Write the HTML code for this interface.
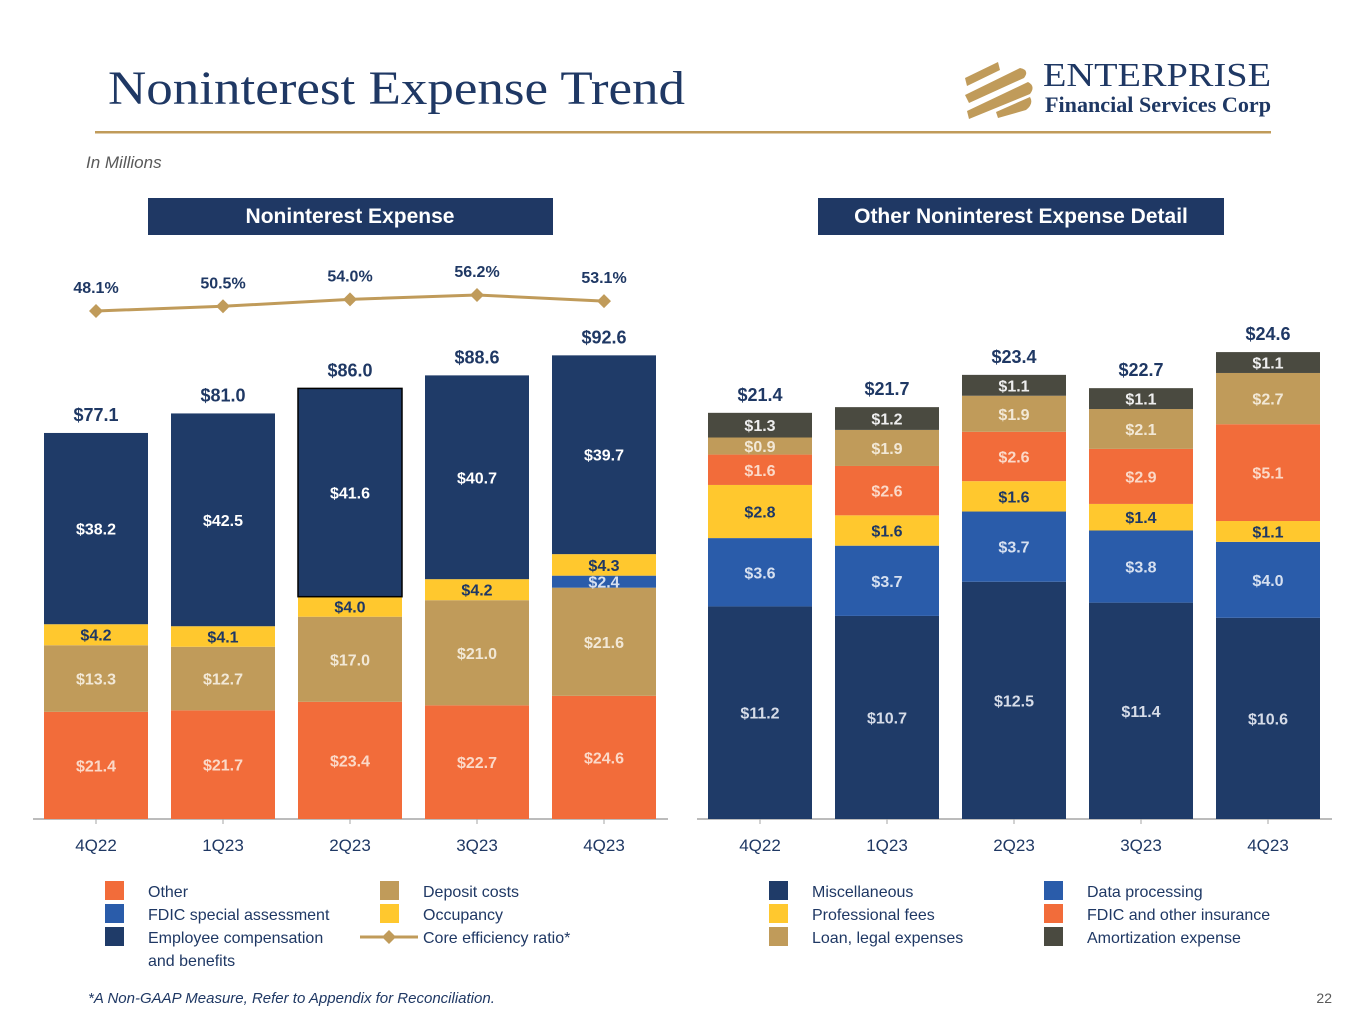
<!DOCTYPE html>
<html><head><meta charset="utf-8">
<style>
body{margin:0;width:1365px;height:1024px;background:#fff;overflow:hidden;font-family:"Liberation Sans",sans-serif}
svg{position:absolute;left:0;top:0}
</style></head>
<body>
<svg id="s" width="1365" height="1024" xmlns="http://www.w3.org/2000/svg">
<text x="108" y="104" font-family="Liberation Serif" font-size="48" fill="#1F3864" textLength="577" lengthAdjust="spacingAndGlyphs">Noninterest Expense Trend</text>
<g>
<path d="M965 78 L998 62 L1000 70 L967 86 Z M965 95 L1020 68 Q1030 70 1024 78 L969 103 Z M967 111 L1028 82 Q1036 86 1030 94 L969 119 Z M996 112 L1030 97 Q1034 104 1026 110 L998 118 Z" fill="#C09B5A"/>
<text x="1043" y="86" font-family="Liberation Serif" font-size="34" fill="#1F3864" textLength="228" lengthAdjust="spacingAndGlyphs">ENTERPRISE</text>
<text x="1045" y="112" font-family="Liberation Serif" font-size="22" font-weight="bold" fill="#1F3864" textLength="226" lengthAdjust="spacingAndGlyphs">Financial Services Corp</text>
</g>
<rect x="95" y="131" width="1176" height="2.5" fill="#C09B5A"/>
<text x="86" y="168" font-size="17" font-style="italic" fill="#595959">In Millions</text>
<rect x="148" y="198" width="405" height="37" fill="#1F3864"/>
<text x="350" y="223" text-anchor="middle" font-size="21" font-weight="bold" fill="#fff">Noninterest Expense</text>
<rect x="818" y="198" width="406" height="37" fill="#1F3864"/>
<text x="1021" y="223" text-anchor="middle" font-size="21" font-weight="bold" fill="#fff">Other Noninterest Expense Detail</text>
<g id="left"></g><g id="right"></g>
<text x="88" y="1003" font-size="15" font-style="italic" fill="#1F3864">*A Non-GAAP Measure, Refer to Appendix for Reconciliation.</text>
<text x="1332" y="1003" text-anchor="end" font-size="14" fill="#595959">22</text>
</svg>
<script>
const quarters=["4Q22","1Q23","2Q23","3Q23","4Q23"];
const leftOther=[21.4,21.7,23.4,22.7,24.6];
const leftDeposit=[13.3,12.7,17.0,21.0,21.6];
const leftFdicSpecial=[0,0,0,0,2.4];
const leftOccupancy=[4.2,4.1,4.0,4.2,4.3];
const leftEmployee=[38.2,42.5,41.6,40.7,39.7];
const leftTotals=[77.1,81.0,86.0,88.6,92.6];
const efficiency=[48.1,50.5,54.0,56.2,53.1];
const rightMisc=[11.2,10.7,12.5,11.4,10.6];
const rightData=[3.6,3.7,3.7,3.8,4.0];
const rightProf=[2.8,1.6,1.6,1.4,1.1];
const rightFdic=[1.6,2.6,2.6,2.9,5.1];
const rightLoan=[0.9,1.9,1.9,2.1,2.7];
const rightAmort=[1.3,1.2,1.1,1.1,1.1];
const rightTotals=[21.4,21.7,23.4,22.7,24.6];

const NS="http://www.w3.org/2000/svg";
function mk(p,t,a,txt){const e=document.createElementNS(NS,t);for(const k in a)e.setAttribute(k,a[k]);if(txt!=null)e.textContent=txt;p.appendChild(e);return e;}
const BASE=819;
function chart(g,x0,series,totals,scale,axisX1,axisX2,prefix){
  const xC=i=>x0+i*127, yV=v=>BASE-v*scale;
  const ax=mk(g,'line',{x1:axisX1,x2:axisX2,y1:BASE,y2:BASE,stroke:'#A6A6A6','stroke-width':1.5});
  
  
  quarters.forEach((q,i)=>{
    let cum=0;
    series.forEach(s=>{
      const v=s.vals[i]; if(!v){return;}
      const r=mk(g,'rect',{x:xC(i)-52,y:yV(cum+v),width:104,height:v*scale,fill:s.color});
      
      
      if(s.outline&&i===2){r.setAttribute('stroke','#000');r.setAttribute('stroke-width','1.5');}
      const t=mk(g,'text',{x:xC(i),y:yV(cum+v/2)+6,'text-anchor':'middle','font-size':16,'font-weight':'bold',fill:s.tc},'$'+v.toFixed(1));
      
      
      cum+=v;
    });
    const tl=mk(g,'text',{x:xC(i),y:yV(totals[i])-12,'text-anchor':'middle','font-size':18,'font-weight':'bold',fill:'#1F3864'},'$'+totals[i].toFixed(1));
    
    
    const tk=mk(g,'line',{x1:xC(i),x2:xC(i),y1:BASE,y2:BASE+5,stroke:'#A6A6A6'});
    
    
    const xl=mk(g,'text',{x:xC(i),y:851,'text-anchor':'middle','font-size':17,fill:'#1F3864'},q);
    
    
  });
  return xC;
}
const L=document.getElementById('left'), R=document.getElementById('right');
const xL=chart(L,96,[
 {name:'other',vals:leftOther,color:'#F26C3A',tc:'#FBD9C8'},
 {name:'deposit',vals:leftDeposit,color:'#C09B5A',tc:'#F2E8D6'},
 {name:'fdic-special',vals:leftFdicSpecial,color:'#2A5CAA',tc:'#D6E0F0'},
 {name:'occupancy',vals:leftOccupancy,color:'#FFC82E',tc:'#1F3864'},
 {name:'employee',vals:leftEmployee,color:'#1F3B68',tc:'#fff',outline:true}
],leftTotals,5.007,33,668,'left');
chart(R,760,[
 {name:'misc',vals:rightMisc,color:'#1F3B68',tc:'#D6DCE8'},
 {name:'data',vals:rightData,color:'#2A5CAA',tc:'#D6E0F0'},
 {name:'prof',vals:rightProf,color:'#FFC82E',tc:'#1F3864'},
 {name:'fdic',vals:rightFdic,color:'#F26C3A',tc:'#FBD9C8'},
 {name:'loan',vals:rightLoan,color:'#C09B5A',tc:'#F2E8D6'},
 {name:'amort',vals:rightAmort,color:'#4A4A40',tc:'#EEE'}
],rightTotals,18.98,697,1332,'right');
const yE=v=>311-(v-48.1)*1.975;
const pl=mk(L,'polyline',{points:efficiency.map((v,i)=>xL(i)+','+yE(v)).join(' '),fill:'none',stroke:'#C09B5A','stroke-width':3});


efficiency.forEach((v,i)=>{
  const x=xL(i),y=yE(v);
  const d=mk(L,'path',{d:`M${x} ${y-7} L${x+7} ${y} L${x} ${y+7} L${x-7} ${y}Z`,fill:'#C09B5A'});
  
  
  const t=mk(L,'text',{x:x,y:y-18,'text-anchor':'middle','font-size':16,'font-weight':'bold',fill:'#1F3864'},v.toFixed(1)+'%');
  
  
});
const legs=[
 [105,898,'#F26C3A','Other'],[105,921,'#2A5CAA','FDIC special assessment'],[105,944,'#1F3B68','Employee compensation'],
 [380,898,'#C09B5A','Deposit costs'],[380,921,'#FFC82E','Occupancy'],
 [769,898,'#1F3B68','Miscellaneous'],[769,921,'#FFC82E','Professional fees'],[769,944,'#C09B5A','Loan, legal expenses'],
 [1044,898,'#2A5CAA','Data processing'],[1044,921,'#F26C3A','FDIC and other insurance'],[1044,944,'#4A4A40','Amortization expense']
];
const S=document.getElementById('s');
legs.forEach(l=>{
  const g=mk(S,'g',{});
  
  
  mk(g,'rect',{x:l[0],y:l[1]-17,width:19,height:19,fill:l[2]});
  mk(g,'text',{x:l[0]+43,y:l[1]-1,'font-size':16,fill:'#1F3864'},l[3]);
});
const ex=mk(S,'text',{x:148,y:966,'font-size':16,fill:'#1F3864'},'and benefits');


const eg=mk(S,'g',{});


mk(eg,'line',{x1:360,x2:418,y1:937,y2:937,stroke:'#C09B5A','stroke-width':3});
mk(eg,'path',{d:'M389 930 L396 937 L389 944 L382 937Z',fill:'#C09B5A'});
mk(eg,'text',{x:423,y:943,'font-size':16,fill:'#1F3864'},'Core efficiency ratio*');
</script>
</body></html>
